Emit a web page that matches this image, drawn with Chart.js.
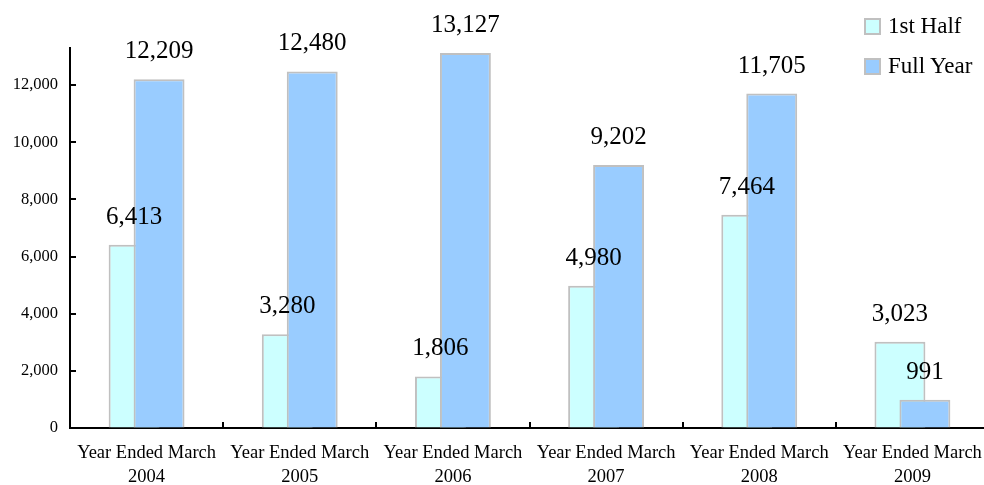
<!DOCTYPE html>
<html>
<head>
<meta charset="utf-8">
<script src="https://cdn.jsdelivr.net/npm/chart.js@4.4.1/dist/chart.umd.min.js"></script>
<style>
    body { margin: 0; overflow: hidden; background: #fff; font-family: 'Liberation Serif', 'Times New Roman', serif; }
    #wrap { position: absolute; left: 0; top: 0; width: 1000px; height: 485px; }
    #legend { position: absolute; left: 864px; top: 12px; }
    .item { display: flex; align-items: center; height: 28px; margin-bottom: 12px; font-size: 23px; color: #000; white-space: nowrap; }
    .swatch { width: 17px; height: 17px; box-sizing: border-box; border: 2px solid #c0c0c0; margin-right: 7px; }
</style>
</head>
<body>
<div id="wrap"><canvas id="chart"></canvas></div>
<div id="legend"></div>
<script>
// Chart data
const years = ['2004', '2005', '2006', '2007', '2008', '2009'];
const firstHalf = [6413, 3280, 1806, 4980, 7464, 3023];
const fullYear = [12209, 12480, 13127, 9202, 11705, 991];
const seriesNames = ['1st Half', 'Full Year'];
const seriesColors = ['#ccffff', '#99ccff'];
const yTicks = [0, 2000, 4000, 6000, 8000, 10000, 12000];
const yMax = 13300;

Chart.defaults.font.family = "'Liberation Serif', 'Times New Roman', serif";
Chart.defaults.color = '#000';

const fmt = v => Number(v).toLocaleString('en-US');

// draw datasets in index order so Full Year sits on top of 1st Half
const drawInOrder = {
    id: 'drawInOrder',
    beforeDatasetsDraw(chart) {
        chart.getSortedVisibleDatasetMetas().forEach(m => m.controller.draw());
        return false;
    }
};

// tick marks pointing into the plot + value labels
const extras = {
    id: 'extras',
    afterDraw(chart) {
        const { ctx, chartArea, scales: { x, y } } = chart;
        ctx.save();
        ctx.strokeStyle = '#000';
        ctx.lineWidth = 2;
        y.ticks.forEach((t, i) => {
            const py = Math.round(y.getPixelForTick(i));
            ctx.beginPath();
            ctx.moveTo(chartArea.left, py);
            ctx.lineTo(chartArea.left + 6, py);
            ctx.stroke();
        });
        for (let i = 1; i <= years.length; i++) {
            const px = Math.round(x.getPixelForValue(i - 0.5));
            ctx.beginPath();
            ctx.moveTo(px, chartArea.bottom);
            ctx.lineTo(px, chartArea.bottom - 6);
            ctx.stroke();
        }

        ctx.fillStyle = '#000';
        ctx.font = "25px 'Liberation Serif', 'Times New Roman', serif";
        ctx.textAlign = 'center';
        ctx.textBaseline = 'alphabetic';
        chart.data.datasets.forEach((ds, di) => {
            const meta = chart.getDatasetMeta(di);
            meta.data.forEach((bar, i) => {
                ctx.fillText(fmt(ds.data[i]), bar.x, bar.y - 21);
            });
        });
        ctx.restore();
    }
};

const ctx = document.getElementById('chart');
const chart = new Chart(ctx, {
    type: 'bar',
    data: {
        labels: years.map(y => ['Year Ended March', y]),
        datasets: [{
            label: seriesNames[0],
            data: firstHalf,
            backgroundColor: seriesColors[0],
            borderColor: '#c0c0c0',
            borderWidth: 2,
            categoryPercentage: 0.326,
            barPercentage: 2.04
        }, {
            label: seriesNames[1],
            data: fullYear,
            backgroundColor: seriesColors[1],
            borderColor: '#c0c0c0',
            borderWidth: 2,
            categoryPercentage: 0.326,
            barPercentage: 2.04
        }]
    },
    options: {
        responsive: true,
        maintainAspectRatio: false,
        animation: false,
        layout: { padding: { top: 48, right: 11, bottom: 0, left: 0 } },
        plugins: {
            legend: { display: false },
            tooltip: { enabled: false }
        },
        scales: {
            x: {
                grid: { display: true, drawOnChartArea: false, drawTicks: false },
                border: { color: '#000', width: 2 },
                ticks: {
                    color: '#000',
                    font: { size: 18.5, lineHeight: 1.25 },
                    padding: 14,
                    maxRotation: 0,
                    autoSkip: false
                },
                afterFit(s) { s.height = 57; }
            },
            y: {
                min: 0,
                max: yMax,
                grid: { display: true, drawOnChartArea: false, drawTicks: false },
                border: { color: '#000', width: 2 },
                ticks: {
                    color: '#000',
                    font: { size: 16.5 },
                    padding: 12,
                    callback: v => fmt(v)
                },
                afterBuildTicks(s) { s.ticks = yTicks.map(v => ({ value: v })); },
                afterFit(s) { s.width = 70; }
            }
        }
    },
    plugins: [drawInOrder, extras]
});

// legend
const legend = document.getElementById('legend');
chart.data.datasets.forEach(ds => {
    const item = document.createElement('div');
    item.className = 'item';
    const sw = document.createElement('span');
    sw.className = 'swatch';
    sw.style.background = ds.backgroundColor;
    const txt = document.createElement('span');
    txt.textContent = ds.label;
    item.appendChild(sw);
    item.appendChild(txt);
    legend.appendChild(item);
});
</script>
</body>
</html>
